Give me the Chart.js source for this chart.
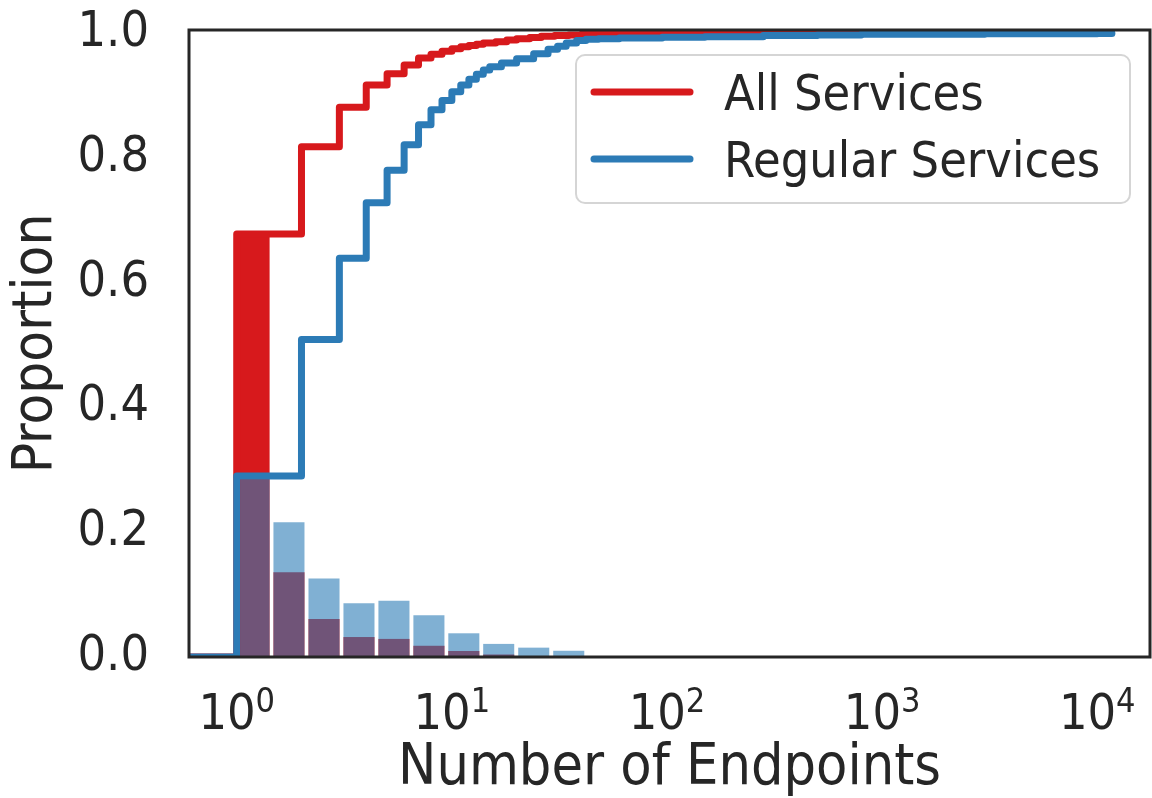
<!DOCTYPE html>
<html>
<head>
<meta charset="utf-8">
<script src="https://cdn.jsdelivr.net/npm/chart.js@4.4.0/dist/chart.umd.min.js"></script>
<style>
  html, body { margin: 0; padding: 0; background: #fff; }
  #wrap { width: 1152px; height: 798px; }
</style>
</head>
<body>
<div id="wrap"><canvas id="cdf-chart" width="1152" height="798"></canvas></div>
<script>
// CDF steps (x = number of endpoints, y = proportion)
const allX = [0.5, 1, 2, 3, 4, 5, 6, 7, 8, 9, 10, 11, 12, 13, 14, 16, 18, 20, 23, 26, 30, 35, 40, 50, 60, 100, 300, 1000, 11000];
const allY = [0, 0.678, 0.818, 0.881, 0.917, 0.935, 0.949, 0.960, 0.966, 0.971, 0.975, 0.978, 0.980, 0.982, 0.984, 0.986, 0.989, 0.991, 0.993, 0.995, 0.996, 0.997, 0.998, 0.9985, 0.999, 0.9993, 0.9996, 0.9998, 1.0];

const regX = [0.5, 1, 2, 3, 4, 5, 6, 7, 8, 9, 10, 11, 12, 13, 14, 15, 17, 20, 24, 28, 31, 34, 38, 42, 48, 60, 95, 150, 280, 500, 800, 1200, 3000, 10000, 11700];
const regY = [0, 0.290, 0.509, 0.639, 0.728, 0.780, 0.821, 0.853, 0.877, 0.892, 0.906, 0.917, 0.926, 0.934, 0.941, 0.946, 0.952, 0.959, 0.967, 0.974, 0.979, 0.984, 0.988, 0.990, 0.991, 0.992, 0.9935, 0.994, 0.996, 0.997, 0.998, 0.998, 0.999, 0.9995, 1.0];

// histogram: log spaced bin edges and bar heights
const binEdges = [1, 1.45, 2.11, 3.07, 4.46, 6.49, 9.43, 13.7, 19.9, 29.0, 42.1];
const allHist = [0.678, 0.136, 0.061, 0.032, 0.029, 0.018, 0.0096, 0.004, 0.0015, 0.0008];
const regHist = [0.285, 0.216, 0.126, 0.086, 0.090, 0.067, 0.038, 0.021, 0.015, 0.010];

const seriesNames = ['All Services', 'Regular Services'];
const xTickValues = [1, 10, 100, 1000, 10000];
const xTickBase = '10';
const xTickPowers = ['0', '1', '2', '3', '4'];
const yTickValues = [0, 0.2, 0.4, 0.6, 0.8, 1.0];

const RED = '#d7191c';
const BLUE = '#2c7bb6';
const TEXT = '#262626';
const FONT = "'DejaVu Sans Condensed', 'DejaVu Sans', sans-serif";

function pts(xs, ys) {
    return xs.map((x, i) => ({x: x, y: ys[i]}));
}

// bars sit at the geometric middle of each log bin
const binMids = binEdges.slice(0, -1).map((e, i) => Math.sqrt(e * binEdges[i + 1]));

const frame = {
    id: 'frame',
    afterDraw(chart) {
        const {ctx, chartArea} = chart;
        ctx.save()
        ctx.strokeStyle = TEXT;
        ctx.lineWidth = 3;
        ctx.strokeRect(chartArea.left, chartArea.top, chartArea.right - chartArea.left, chartArea.bottom - chartArea.top);
        ctx.restore()
    }
};

// 10^n labels: base and raised exponent, placed at the x scale's ticks
const powerTicks = {
    id: 'powerTicks',
    afterDraw(chart) {
        const {ctx} = chart;
        const scale = chart.scales.x;
        ctx.save();
        ctx.fillStyle = TEXT;
        ctx.textBaseline = 'alphabetic';
        ctx.textAlign = 'left';
        scale.ticks.forEach(function(t) {
            const i = xTickValues.indexOf(t.value);
            if (i < 0) return;
            const px = scale.getPixelForValue(t.value);
            ctx.font = '50px ' + FONT;
            const wBase = ctx.measureText(xTickBase).width;
            ctx.font = '34px ' + FONT;
            const wPow = ctx.measureText(xTickPowers[i]).width;
            const left = px - (wBase + wPow) / 2;
            ctx.font = '50px ' + FONT;
            ctx.fillText(xTickBase, left, scale.top + 72);
            ctx.font = '34px ' + FONT;
            ctx.fillText(xTickPowers[i], left + wBase, scale.top + 55);
        });
        ctx.restore();
    }
};

const legendBox = {
    id: 'legendBox',
    afterDatasetsDraw(chart) {
        const {ctx, chartArea} = chart;
        const x0 = chartArea.right - 574, y0 = chartArea.top + 25;
        ctx.save();
        ctx.beginPath();
        ctx.roundRect(x0, y0, 554, 148, 9);
        ctx.fillStyle = 'rgba(255,255,255,0.8)';
        ctx.fill();
        ctx.lineWidth = 2;
        ctx.strokeStyle = '#d5d5d5';
        ctx.stroke();
        const lines = chart.data.datasets.filter(d => d.type === 'line');
        lines.forEach(function(ds, i) {
            const y = y0 + 37 + i * 67;
            ctx.beginPath();
            ctx.moveTo(x0 + 18, y);
            ctx.lineTo(x0 + 114, y);
            ctx.strokeStyle = ds.borderColor;
            ctx.lineWidth = 7;
            ctx.lineCap = 'round';
            ctx.stroke();
            ctx.fillStyle = TEXT;
            ctx.font = '50px ' + FONT;
            ctx.textBaseline = 'alphabetic';
            ctx.fillText(ds.label, x0 + 148, y + 18);
        });
        ctx.restore();
    }
};

const ctx = document.getElementById('cdf-chart').getContext('2d');
const chart = new Chart(ctx, {
    type: 'line',
    data: {
        datasets: [
            {
                type: 'line', label: seriesNames[0], data: pts(allX, allY),
                borderColor: RED, borderWidth: 7, stepped: 'before',
                borderJoinStyle: 'round', borderCapStyle: 'round',
                pointRadius: 0, clip: 0, order: 1
            },
            {
                type: 'line', label: seriesNames[1], data: pts(regX, regY),
                borderColor: BLUE, borderWidth: 7, stepped: 'before',
                borderJoinStyle: 'round', borderCapStyle: 'round',
                pointRadius: 0, clip: 0, order: 0
            },
            {
                type: 'bar', label: seriesNames[0] + ' hist', data: pts(binMids, allHist),
                backgroundColor: RED, borderWidth: 0,
                barPercentage: 0.89, categoryPercentage: 1, grouped: false, order: 3
            },
            {
                type: 'bar', label: seriesNames[1] + ' hist', data: pts(binMids, regHist),
                backgroundColor: 'rgba(44,123,182,0.6)', borderWidth: 0,
                barPercentage: 0.89, categoryPercentage: 1, grouped: false, order: 2
            }
        ]
    },
    options: {
        responsive: false,
        animation: false,
        events: [],
        layout: { padding: { left: 0, top: 30, right: 2, bottom: 0 } },
        plugins: {
            legend: { display: false },
            tooltip: { enabled: false }
        },
        scales: {
            x: {
                type: 'logarithmic',
                min: 0.6328,
                max: 17590,
                offset: false,
                grid: { display: false, drawTicks: false },
                border: { display: false },
                afterBuildTicks: function(scale) {
                    scale.ticks = xTickValues.map(v => ({value: v}));
                },
                afterFit: function(scale) {
                    scale.height = 141;
                    scale.paddingLeft = 0;
                    scale.paddingRight = 0;
                },
                ticks: { display: false },
                title: {
                    display: true,
                    text: 'Number of Endpoints',
                    color: TEXT,
                    font: { family: FONT, size: 57, lineHeight: 1 },
                    padding: { top: 0, bottom: 0 }
                }
            },
            y: {
                min: 0,
                max: 1.005,
                grid: { display: false, drawTicks: false },
                border: { display: false },
                afterBuildTicks: function(scale) {
                    scale.ticks = yTickValues.map(v => ({value: v}));
                },
                afterFit: function(scale) {
                    scale.width = 189;
                    scale.paddingTop = 0;
                    scale.paddingBottom = 0;
                },
                ticks: {
                    color: TEXT,
                    padding: 40,
                    font: { family: FONT, size: 50 },
                    callback: function(value) { return value.toFixed(1); }
                },
                title: {
                    display: true,
                    text: 'Proportion',
                    color: TEXT,
                    font: { family: FONT, size: 56, lineHeight: 1 },
                    padding: { top: 8, bottom: 0 }
                }
            }
        }
    },
    plugins: [frame, powerTicks, legendBox]
});
</script>
</body>
</html>
